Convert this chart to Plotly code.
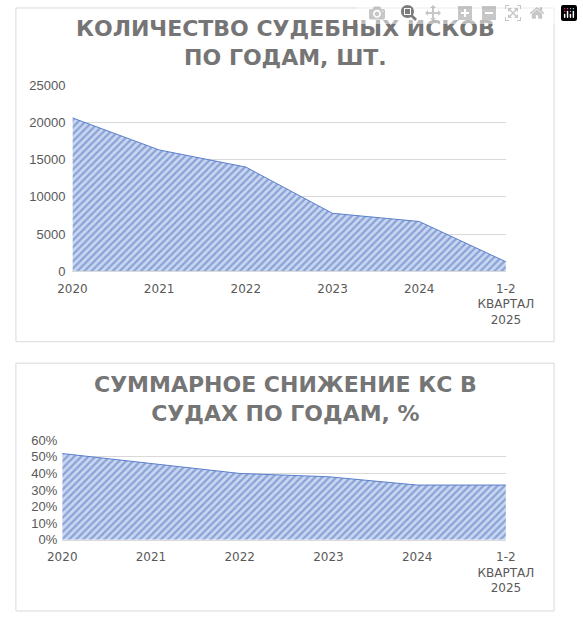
import plotly.graph_objects as go

categories = ["2020", "2021", "2022", "2023", "2024", "1-2<br>КВАРТАЛ<br>2025"]
lawsuits = [20600, 16300, 14000, 7800, 6700, 1300]
reduction = [0.52, 0.46, 0.40, 0.38, 0.33, 0.33]
y1_ticks = [0, 5000, 10000, 15000, 20000, 25000]
y2_ticks = [0, 0.1, 0.2, 0.3, 0.4, 0.5, 0.6]

H, W = 620, 583
def py(p): return 1 - p / H
def px(p): return p / W

line_c = "#5B7FCB"
pat = dict(shape="/", fgcolor="#4A6FC0", bgcolor="#C9D6F0", size=5, solidity=0.45)
grey = "#595959"

fig = go.Figure()
fig.add_trace(go.Scatter(x=list(range(6)), y=lawsuits, mode="lines", fill="tozeroy",
                         line=dict(color=line_c, width=1), fillpattern=pat, xaxis="x", yaxis="y",
                         hoverinfo="skip"))
fig.add_trace(go.Scatter(x=list(range(6)), y=reduction, mode="lines", fill="tozeroy",
                         line=dict(color=line_c, width=1), fillpattern=pat, xaxis="x2", yaxis="y2",
                         hoverinfo="skip"))

tickfont = dict(family="DejaVu Sans", size=12, color=grey)
xcommon = dict(tickmode="array", tickvals=list(range(6)), ticktext=categories, range=[0, 5],
               showgrid=False, zeroline=False, showline=True, linecolor="#D9D9D9",
               tickfont=tickfont, ticks="", fixedrange=True, ticklabelstandoff=6)
yfont = dict(family="Liberation Sans", size=13, color=grey)
fig.update_layout(
    width=W, height=H, autosize=False, margin=dict(l=0, r=0, t=0, b=0),
    paper_bgcolor="white", plot_bgcolor="white", showlegend=False,
    xaxis=dict(domain=[px(62), px(530)], anchor="y", **xcommon),
    yaxis=dict(domain=[py(271), py(80)], range=[0, 25000], tickvals=y1_ticks, tickformat="d",
               gridcolor="#D9D9D9", zeroline=False, tickfont=yfont, anchor="x", ticklabelstandoff=6),
    xaxis2=dict(domain=[px(51), px(530)], anchor="y2", **xcommon),
    yaxis2=dict(domain=[py(546), py(444)], range=[0, 0.6], tickvals=y2_ticks, tickformat=".0%",
                gridcolor="#D9D9D9", zeroline=False, tickfont=yfont, anchor="x2", ticklabelstandoff=4),
    shapes=[
        dict(type="rect", xref="paper", yref="paper", x0=px(1), x1=px(582), y0=py(343), y1=py(1),
             line=dict(color="#D9D9D9", width=1)),
        dict(type="rect", xref="paper", yref="paper", x0=px(1), x1=px(582), y0=py(619), y1=py(365),
             line=dict(color="#D9D9D9", width=1)),
    ],
    annotations=[
        dict(text="<b>КОЛИЧЕСТВО СУДЕБНЫХ ИСКОВ<br>ПО ГОДАМ, ШТ.</b>", xref="paper", yref="paper",
             x=px(292), y=py(37), showarrow=False, font=dict(family="DejaVu Sans", size=22, color="#757575"),
             yanchor="middle"),
        dict(text="<b>СУММАРНОЕ СНИЖЕНИЕ КС В<br>СУДАХ ПО ГОДАМ, %</b>", xref="paper", yref="paper",
             x=px(292), y=py(402), showarrow=False, font=dict(family="DejaVu Sans", size=22, color="#757575"),
             yanchor="middle"),
    ],
)
fig.write_html("out.html", post_script="document.body.style.margin='0';document.body.style.overflow='hidden';")
